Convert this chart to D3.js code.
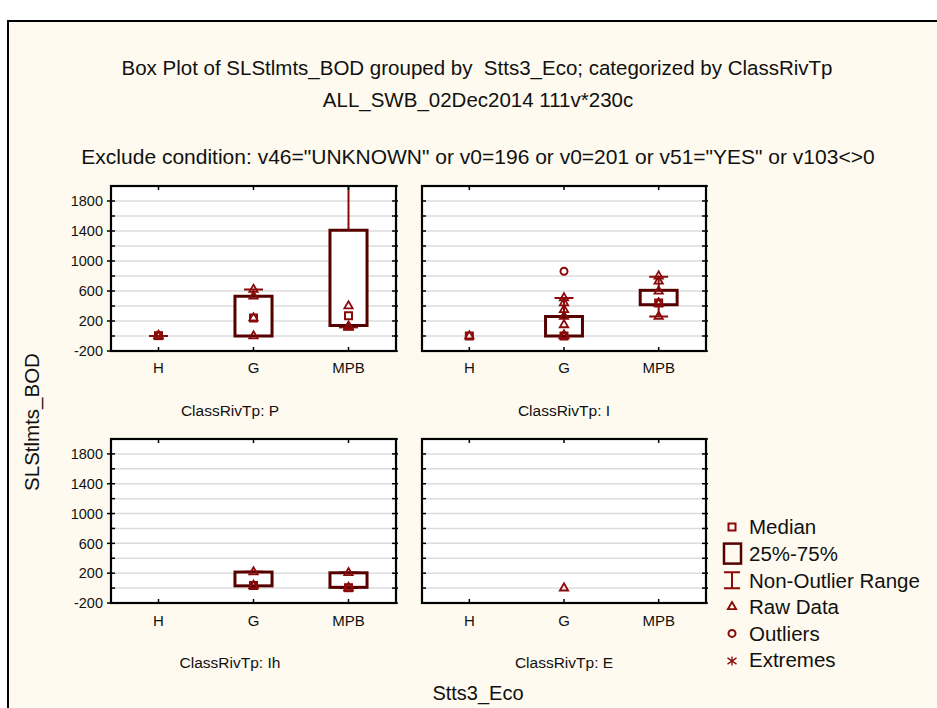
<!DOCTYPE html>
<html><head><meta charset="utf-8">
<script src="https://cdn.jsdelivr.net/npm/d3@7"></script>
<style>
body{margin:0;background:#fff}
svg{display:block}
text{font-family:"Liberation Sans",Arial,sans-serif;fill:#111}
</style>
</head><body>
<svg id="c" width="937" height="708"></svg>
<script>
// ---------- data ----------
const categories = ["H", "G", "MPB"];
const panelNames = ["P", "I", "Ih", "E"];
const yTickLabels = [-200, 200, 600, 1000, 1400, 1800];
const gridValues = [0, 200, 400, 600, 800, 1000, 1200, 1400, 1600, 1800, 2000];

// ClassRivTp: P
const medianP = [5, 240, 270];
const q1P = [0, 0, 140];
const q3P = [0, 530, 1410];
const loP = [0, 0, 115];
const hiP = [0, 620, 2100];
const rawP = [[0, 5, 0], [620, 530, 240, 0], [400, 130, 120, 115]];
const outP = [[], [], []];

// ClassRivTp: I
const medianI = [0, 0, 440];
const q1I = [null, 0, 417];
const q3I = [null, 260, 609];
const loI = [null, 0, 260];
const hiI = [null, 507, 790];
const rawI = [[0], [507, 440, 350, 260, 149, 0, 5, 10], [797, 730, 596, 440, 430, 260]];
const outI = [[], [864], []];

// ClassRivTp: Ih
const medianIh = [null, 35, 5];
const q1Ih = [null, 30, 10];
const q3Ih = [null, 215, 205];
const loIh = [null, 30, 0];
const hiIh = [null, 220, 210];
const rawIh = [[], [215, 35, 30], [205, 5, 0]];
const outIh = [[], [], []];

// ClassRivTp: E
const medianE = [null, null, null];
const q1E = [null, null, null];
const q3E = [null, null, null];
const loE = [null, null, null];
const hiE = [null, null, null];
const rawE = [[], [0], []];
const outE = [[], [], []];

const legendItems = ["Median", "25%-75%", "Non-Outlier Range", "Raw Data", "Outliers", "Extremes"];

// ---------- drawing ----------
const panelsData = [
  {name: panelNames[0], median: medianP, q1: q1P, q3: q3P, lo: loP, hi: hiP, raw: rawP, out: outP},
  {name: panelNames[1], median: medianI, q1: q1I, q3: q3I, lo: loI, hi: hiI, raw: rawI, out: outI},
  {name: panelNames[2], median: medianIh, q1: q1Ih, q3: q3Ih, lo: loIh, hi: hiIh, raw: rawIh, out: outIh},
  {name: panelNames[3], median: medianE, q1: q1E, q3: q3E, lo: loE, hi: hiE, raw: rawE, out: outE}
];

const BOX = "#560000", MAR = "#8a0a0a", BG = "#fefaef";
const svg = d3.select("#c");

// background & frame
svg.append("rect").attr("x", 8).attr("y", 21).attr("width", 929).attr("height", 687).attr("fill", BG);
svg.append("path").attr("d", "M8,708V21H937").attr("fill", "none").attr("stroke", "#000").attr("stroke-width", 2);

// titles
svg.append("text").attr("x", 477).attr("y", 75).attr("text-anchor", "middle").style("font-size", "20.5px")
  .attr("xml:space", "preserve").text("Box Plot of SLStlmts_BOD grouped by  Stts3_Eco; categorized by ClassRivTp");
svg.append("text").attr("x", 478).attr("y", 107).attr("text-anchor", "middle").style("font-size", "20.5px")
  .text("ALL_SWB_02Dec2014 111v*230c");
svg.append("text").attr("x", 478).attr("y", 164).attr("text-anchor", "middle").style("font-size", "21px")
  .text('Exclude condition: v46="UNKNOWN" or v0=196 or v0=201 or v51="YES" or v103<>0');

// axis titles
svg.append("text").attr("transform", "translate(39,422) rotate(-90)").attr("text-anchor", "middle")
  .style("font-size", "20.5px").text("SLStlmts_BOD");
svg.append("text").attr("x", 478).attr("y", 700).attr("text-anchor", "middle")
  .style("font-size", "20px").text("Stts3_Eco");

const layout = [
  {x0: 111, x1: 396, y0: 186, y1: 351, title: 230, ty: 416, lab: 373, left: true},
  {x0: 422, x1: 706, y0: 186, y1: 351, title: 564, ty: 416, lab: 373, left: false},
  {x0: 111, x1: 396, y0: 439, y1: 603, title: 230, ty: 668, lab: 626, left: true},
  {x0: 422, x1: 706, y0: 439, y1: 603, title: 564, ty: 668, lab: 626, left: false}
];

const tri = d3.symbol().type(d3.symbolTriangle).size(30);

panelsData.forEach((pd, i) => {
  const L = layout[i];
  const x = d3.scaleBand().domain(categories).range([L.x0, L.x1]).padding(0);
  const y = d3.scaleLinear().domain([-200, 2000]).range([L.y1, L.y0]);
  const g = svg.append("g");
  const clipId = "clip" + i;
  svg.append("clipPath").attr("id", clipId).append("rect")
    .attr("x", L.x0).attr("y", L.y0).attr("width", L.x1 - L.x0).attr("height", L.y1 - L.y0);

  g.append("rect").attr("x", L.x0).attr("y", L.y0).attr("width", L.x1 - L.x0).attr("height", L.y1 - L.y0).attr("fill", "#fff");
  g.selectAll(".grid").data(gridValues).join("line")
    .attr("x1", L.x0).attr("x2", L.x1).attr("y1", d => y(d)).attr("y2", d => y(d))
    .attr("stroke", "#dcdcdc").attr("stroke-width", 1.5);

  const pg = g.append("g").attr("clip-path", `url(#${clipId})`);
  const bw = x.bandwidth() * 0.39, cw = x.bandwidth() * 0.2;

  categories.forEach((c, k) => {
    const cx = x(c) + x.bandwidth() / 2;
    if (pd.lo[k] != null && pd.hi[k] != null) {
      const top = pd.q3[k] != null ? pd.q3[k] : pd.median[k];
      const bot = pd.q1[k] != null ? pd.q1[k] : pd.median[k];
      pg.append("line").attr("x1", cx).attr("x2", cx).attr("y1", y(pd.hi[k])).attr("y2", y(top))
        .attr("stroke", MAR).attr("stroke-width", 2);
      pg.append("line").attr("x1", cx).attr("x2", cx).attr("y1", y(pd.lo[k])).attr("y2", y(bot))
        .attr("stroke", MAR).attr("stroke-width", 2);
      [pd.hi[k], pd.lo[k]].forEach(v => {
        pg.append("line").attr("x1", cx - cw / 2).attr("x2", cx + cw / 2).attr("y1", y(v)).attr("y2", y(v))
          .attr("stroke", MAR).attr("stroke-width", 2);
      });
    }
    if (pd.q1[k] != null && pd.q3[k] != null && pd.q3[k] > pd.q1[k]) {
      pg.append("rect").attr("x", cx - bw / 2).attr("width", bw)
        .attr("y", y(pd.q3[k])).attr("height", y(pd.q1[k]) - y(pd.q3[k]))
        .attr("fill", "#fff").attr("stroke", BOX).attr("stroke-width", 3);
    }
    if (pd.median[k] != null) {
      pg.append("rect").attr("x", cx - 3.5).attr("y", y(pd.median[k]) - 3.5).attr("width", 7).attr("height", 7)
        .attr("fill", "none").attr("stroke", MAR).attr("stroke-width", 2);
    }
    pd.raw[k].forEach(v => {
      pg.append("path").attr("d", tri).attr("transform", `translate(${cx},${y(v)})`)
        .attr("fill", "none").attr("stroke", MAR).attr("stroke-width", 1.8);
    });
    pd.out[k].forEach(v => {
      pg.append("circle").attr("cx", cx).attr("cy", y(v)).attr("r", 3.5)
        .attr("fill", "none").attr("stroke", MAR).attr("stroke-width", 2);
    });
  });

  const tk = g.append("g").attr("stroke", "#000").attr("stroke-width", 1.5);
  gridValues.concat([-200]).forEach(v => {
    tk.append("line").attr("x1", L.x0 - (L.left && yTickLabels.includes(v) ? 4 : 0)).attr("x2", L.x0 + 4).attr("y1", y(v)).attr("y2", y(v));
    tk.append("line").attr("x1", L.x1 - 4).attr("x2", L.x1 + 2).attr("y1", y(v)).attr("y2", y(v));
  });
  categories.forEach(c => {
    const cx = x(c) + x.bandwidth() / 2;
    tk.append("line").attr("x1", cx).attr("x2", cx).attr("y1", L.y0).attr("y2", L.y0 + 4);
    tk.append("line").attr("x1", cx).attr("x2", cx).attr("y1", L.y1 - 4).attr("y2", L.y1);
  });

  g.append("rect").attr("x", L.x0).attr("y", L.y0).attr("width", L.x1 - L.x0).attr("height", L.y1 - L.y0)
    .attr("fill", "none").attr("stroke", "#000").attr("stroke-width", 2.2);

  if (L.left) {
    g.selectAll(".yl").data(yTickLabels).join("text")
      .attr("x", L.x0 - 8).attr("y", d => y(d)).attr("dy", "0.36em").attr("text-anchor", "end")
      .style("font-size", "14.5px").text(d => d);
  }
  g.selectAll(".xl").data(categories).join("text")
    .attr("x", d => x(d) + x.bandwidth() / 2).attr("y", L.lab).attr("text-anchor", "middle")
    .style("font-size", "15px").text(d => d);
  g.append("text").attr("x", L.title).attr("y", L.ty).attr("text-anchor", "middle")
    .style("font-size", "15.5px").text("ClassRivTp: " + pd.name);
});

// legend
const lg = svg.append("g");
const ly0 = 527, ldy = 26.6, lsx = 732;
legendItems.forEach((t, i) => {
  lg.append("text").attr("x", 749).attr("y", ly0 + i * ldy).attr("dy", "0.36em")
    .style("font-size", "20.5px").text(t);
});
lg.append("rect").attr("x", lsx - 3.5).attr("y", ly0 - 3.5).attr("width", 7).attr("height", 7)
  .attr("fill", "none").attr("stroke", MAR).attr("stroke-width", 2);
lg.append("rect").attr("x", 724).attr("y", ly0 + ldy - 10).attr("width", 17).attr("height", 20)
  .attr("fill", "none").attr("stroke", BOX).attr("stroke-width", 2.5);
{
  const yc = ly0 + 2 * ldy;
  lg.append("path").attr("d", `M${lsx - 8},${yc - 8}H${lsx + 8}M${lsx},${yc - 8}V${yc + 8}M${lsx - 8},${yc + 8}H${lsx + 8}`)
    .attr("stroke", MAR).attr("stroke-width", 2).attr("fill", "none");
}
lg.append("path").attr("d", tri).attr("transform", `translate(${lsx},${ly0 + 3 * ldy})`)
  .attr("fill", "none").attr("stroke", MAR).attr("stroke-width", 1.8);
lg.append("circle").attr("cx", lsx).attr("cy", ly0 + 4 * ldy).attr("r", 3.5)
  .attr("fill", "none").attr("stroke", MAR).attr("stroke-width", 2);
{
  const yc = ly0 + 5 * ldy + 1, r = 4.5;
  lg.append("path").attr("d", `M${lsx},${yc - r}V${yc + r}M${lsx - r},${yc - r * 0.7}L${lsx + r},${yc + r * 0.7}M${lsx - r},${yc + r * 0.7}L${lsx + r},${yc - r * 0.7}`)
    .attr("stroke", MAR).attr("stroke-width", 1.3).attr("fill", "none");
}
</script>
</body></html>
